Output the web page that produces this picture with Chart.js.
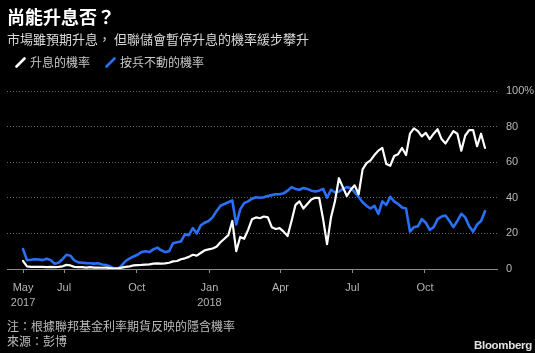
<!DOCTYPE html>
<html><head><meta charset="utf-8">
<script src="https://cdn.jsdelivr.net/npm/chart.js@4.4.1/dist/chart.umd.min.js"></script>
<style>
html,body{margin:0;padding:0;background:#000;}
#wrap{position:relative;width:535px;height:353px;background:#000;overflow:hidden;font-family:"Noto Sans CJK TC","Noto Sans",sans-serif;}
canvas{position:absolute;left:0;top:0;}
.t{position:absolute;white-space:nowrap;line-height:1;}
</style></head><body>
<div id="wrap">
<canvas id="c" width="535" height="353"></canvas>
<div class="t" style="left:7px;top:7px;font-size:18px;font-weight:bold;color:#fff;">尚能升息否？</div>
<div class="t" style="left:7px;top:32px;font-size:13px;color:#d8d8d8;">市場雖預期升息， 但聯儲會暫停升息的機率緩步攀升</div>
<div class="t" style="left:15px;top:56px;font-size:12px;color:#c8c8c8;"><svg width="11" height="11" style="vertical-align:-1px;margin-right:4px"><line x1="1.5" y1="9.5" x2="9.5" y2="1.5" stroke="#fff" stroke-width="2.6" stroke-linecap="round"/></svg>升息的機率</div>
<div class="t" style="left:105px;top:56px;font-size:12px;color:#c8c8c8;"><svg width="11" height="11" style="vertical-align:-1px;margin-right:4px"><line x1="1.5" y1="9.5" x2="9.5" y2="1.5" stroke="#2a6ff6" stroke-width="2.6" stroke-linecap="round"/></svg>按兵不動的機率</div>
<div class="t" style="left:7px;top:320px;font-size:12px;color:#bdbdbd;">注：根據聯邦基金利率期貨反映的隱含機率</div>
<div class="t" style="left:7px;top:335px;font-size:12px;color:#bdbdbd;">來源：彭博</div>
<div class="t" style="left:474px;top:340px;font-size:11.5px;font-weight:bold;color:#e0e0e0;font-family:'Liberation Sans',Arial,sans-serif;letter-spacing:-0.3px;">Bloomberg</div>
</div>
<script>
// sampling: every 5 days starting 2017-05-10
const firstDate = "2017-05-10";
const stepDays = 5;
const hikeProb = [
4.5,1.5,1.2,1.2,1.2,1.2,1.0,1.2,1.0,1.2,
1.5,2.3,2.0,1.2,1.0,1.0,0.8,1.0,0.8,0.8,
0.7,0.8,0.5,0.2,0.3,0.8,1.2,1.5,2.0,2.2,
2.3,2.5,2.6,3.0,3.2,3.0,3.2,3.5,4.3,4.5,
5.5,6.0,6.8,8.0,7.5,9.0,10.5,11.0,11.5,12.5,
15.0,17.0,19.0,27.0,10.0,18.0,17.0,22.0,28.0,29.0,
28.5,29.5,29.0,23.5,22.5,23.0,21.0,18.5,27.0,36.0,
38.0,34.0,36.5,39.0,40.0,40.0,28.0,14.0,29.0,38.0,
51.0,46.0,41.0,44.5,47.0,42.0,56.0,59.5,61.0,64.0,
66.5,68.0,59.0,58.0,63.5,64.5,68.0,64.0,76.0,79.0,
77.5,74.5,76.5,73.0,76.0,78.5,73.0,70.5,74.0,77.5,
76.0,66.5,75.0,78.0,78.0,69.0,76.0,68.0];
const holdProb = [
11.2,5.0,5.2,5.5,5.3,5.0,5.8,5.0,3.0,3.5,
5.5,8.0,7.5,4.8,3.7,3.5,3.3,3.2,3.0,3.2,
2.5,2.2,1.5,0.5,0.2,2.0,4.5,6.0,7.0,8.0,
9.5,10.0,9.5,11.0,12.0,10.5,9.5,10.0,14.5,15.0,
15.5,19.5,19.0,23.0,20.0,24.5,26.0,27.0,29.0,32.5,
35.5,36.5,37.5,38.5,25.0,33.5,37.0,38.0,39.5,40.3,
40.0,40.3,41.0,41.5,42.0,42.0,42.5,44.0,46.0,45.0,
44.5,45.5,45.0,44.0,43.5,44.0,45.0,40.0,44.5,43.0,
43.5,45.0,46.0,45.5,43.0,40.5,37.5,35.5,34.0,35.5,
31.0,38.0,36.0,40.5,38.0,36.5,34.5,34.0,21.0,23.5,
24.0,28.0,26.0,22.0,23.5,28.0,29.5,30.0,27.0,23.5,
27.0,31.0,29.0,24.0,21.0,25.0,27.0,32.5];
const tickDates = ["2017-05-10","2017-07-01","2017-10-01","2018-01-01","2018-04-01","2018-07-01","2018-10-01"];
const tickLabels = [["May","2017"],"Jul","Oct",["Jan","2018"],"Apr","Jul","Oct"];
const yTicks = [0,20,40,60,80,100];
const axisStart = "2017-04-20", axisEnd = "2018-12-31";

const base = Date.UTC(2017,0,1);
const dayNum = s => { const [y,m,d] = s.split("-").map(Number); return (Date.UTC(y,m-1,d)-base)/86400000; };
const x0 = dayNum(firstDate);
const pts = arr => arr.map((v,i)=>({x:x0+stepDays*i, y:v}));
const tickDays = tickDates.map(dayNum);

new Chart(document.getElementById('c'), {
  type:'line',
  data:{datasets:[
    {label:'升息的機率', data:pts(hikeProb), borderColor:'#ffffff', borderWidth:2.2},
    {label:'按兵不動的機率', data:pts(holdProb), borderColor:'#2a6ff6', borderWidth:2.6}
  ]},
  options:{
    responsive:false, animation:false, devicePixelRatio:1,
    layout:{padding:{left:7,top:91,right:0,bottom:0}},
    plugins:{legend:{display:false}, tooltip:{enabled:false}},
    elements:{point:{radius:0}, line:{tension:0, borderJoinStyle:'round', borderCapStyle:'round'}},
    scales:{
      x:{type:'linear', min:dayNum(axisStart)-0.3, max:dayNum(axisEnd)+0.2,
        afterBuildTicks:s=>{ s.ticks = tickDays.map(v=>({value:v})); },
        afterFit:s=>{ s.height = 84; },
        grid:{drawOnChartArea:false, drawTicks:true, tickLength:4, color:'#8c8c8c'},
        border:{display:true, color:'#8c8c8c', width:1},
        ticks:{color:'#b4b4b4', font:{family:"'Liberation Sans', Arial, sans-serif", size:11, lineHeight:1.35}, padding:8, maxRotation:0, autoSkip:false,
          callback:(v,i)=>tickLabels[i]}
      },
      y:{position:'right', min:0, max:100,
        afterBuildTicks:s=>{ s.ticks = yTicks.map(v=>({value:v})); },
        afterFit:s=>{ s.width = 38; },
        grid:{drawTicks:false, color:ctx=>ctx.tick && ctx.tick.value===0 ? 'rgba(0,0,0,0)' : '#6a6a6a', lineWidth:1},
        border:{display:false, dash:[1,2]},
        ticks:{color:'#b8b8b8', font:{family:"'Liberation Sans', Arial, sans-serif", size:11}, padding:9,
          callback:v=> v===100 ? '100%' : String(v)}
      }
    }
  }
});
</script>
</body></html>
